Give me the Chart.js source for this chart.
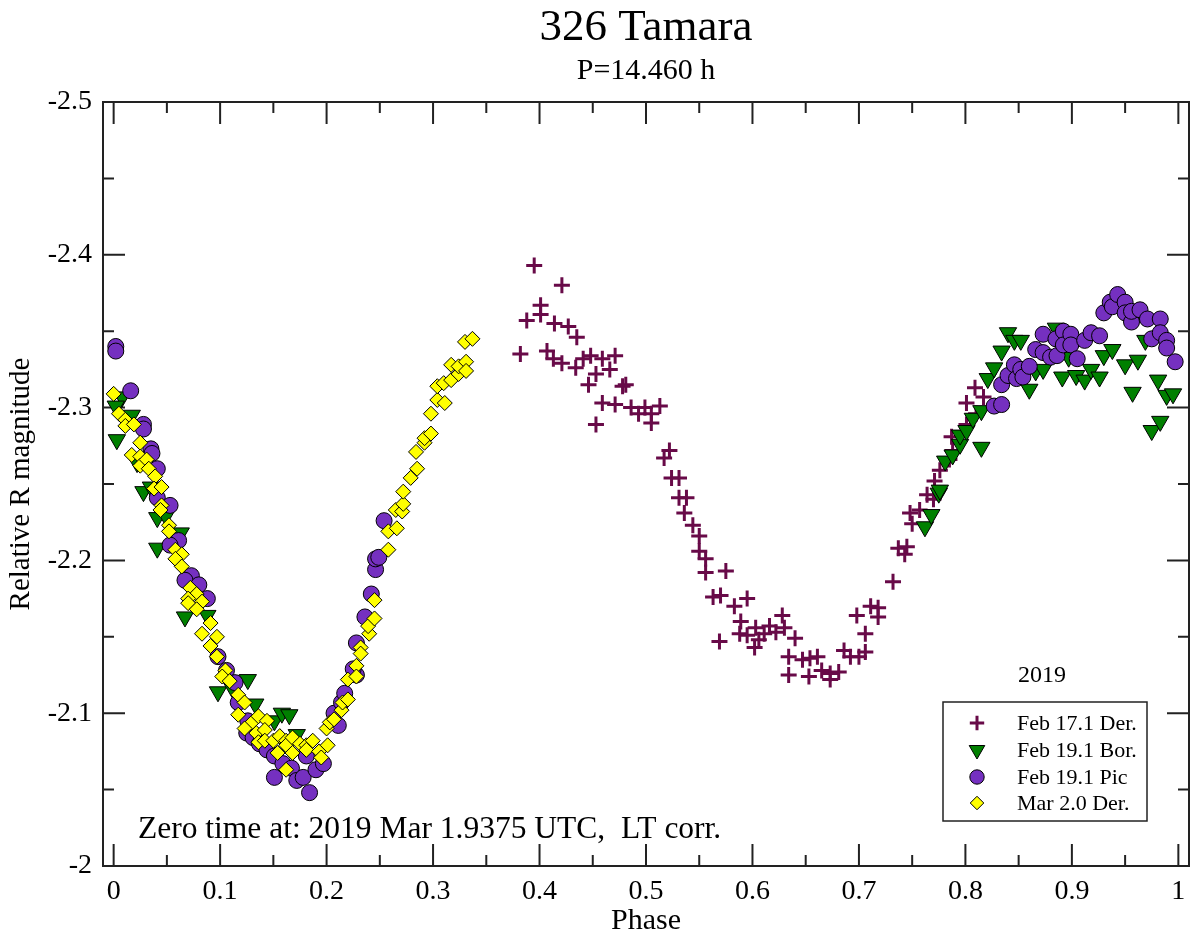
<!DOCTYPE html>
<html>
<head>
<meta charset="utf-8">
<title>326 Tamara</title>
<script src="https://cdn.jsdelivr.net/npm/chart.js@4.4.0/dist/chart.umd.min.js"></script>
<style>
  html, body { margin: 0; padding: 0; background: #fff; }
  #wrap { width: 1200px; height: 936px; position: relative; }
</style>
</head>
<body>
<div id="wrap"><canvas id="lc"></canvas></div>
<script>
// axis ticks
const xTicks = [0, 0.1, 0.2, 0.3, 0.4, 0.5, 0.6, 0.7, 0.8, 0.9, 1];
const xMinor = [0.05, 0.15, 0.25, 0.35, 0.45, 0.55, 0.65, 0.75, 0.85, 0.95];
const yTicks = [-2.5, -2.4, -2.3, -2.2, -2.1, -2];
const yMinor = [-2.45, -2.35, -2.25, -2.15, -2.05];

const seriesNames = ['Feb 17.1 Der.', 'Feb 19.1 Bor.', 'Feb 19.1 Pic', 'Mar 2.0 Der.'];

// Feb 17.1 Der. (plus)
const plusPhase = [0.395, 0.421, 0.401, 0.401, 0.388, 0.414, 0.427, 0.435, 0.382, 0.407,
  0.413, 0.421, 0.434, 0.441, 0.448, 0.459, 0.471, 0.453, 0.466, 0.446,
  0.478, 0.481, 0.459, 0.471, 0.486, 0.493, 0.499, 0.505, 0.513, 0.505,
  0.453, 0.522, 0.517, 0.524, 0.531, 0.531, 0.538, 0.536, 0.544, 0.550,
  0.550, 0.556, 0.556, 0.575, 0.563, 0.570, 0.569, 0.583, 0.595, 0.589,
  0.588, 0.595, 0.603, 0.602, 0.606, 0.611, 0.616, 0.622, 0.628, 0.630,
  0.640, 0.634, 0.634, 0.647, 0.654, 0.661, 0.653, 0.665, 0.673, 0.681,
  0.673, 0.686, 0.692, 0.700, 0.706, 0.706, 0.698, 0.711, 0.718, 0.718,
  0.732, 0.737, 0.745, 0.743, 0.750, 0.757, 0.764, 0.770, 0.771, 0.776,
  0.785, 0.788, 0.787, 0.801, 0.810, 0.801, 0.817, 0.809, 0.748];
const plusMag = [-2.393, -2.380, -2.367, -2.361, -2.357, -2.355, -2.353, -2.346, -2.335, -2.337,
  -2.332, -2.329, -2.326, -2.332, -2.334, -2.332, -2.334, -2.322, -2.325, -2.315,
  -2.314, -2.315, -2.303, -2.302, -2.300, -2.296, -2.300, -2.296, -2.301, -2.290,
  -2.289, -2.272, -2.267, -2.254, -2.254, -2.241, -2.241, -2.231, -2.223, -2.216,
  -2.206, -2.201, -2.192, -2.193, -2.176, -2.177, -2.147, -2.170, -2.175, -2.160,
  -2.152, -2.151, -2.156, -2.143, -2.148, -2.152, -2.157, -2.153, -2.164, -2.156,
  -2.149, -2.137, -2.125, -2.135, -2.136, -2.137, -2.124, -2.128, -2.126, -2.127,
  -2.122, -2.141, -2.137, -2.137, -2.140, -2.152, -2.164, -2.170, -2.169, -2.163,
  -2.186, -2.208, -2.209, -2.204, -2.224, -2.233, -2.243, -2.240, -2.252, -2.259,
  -2.266, -2.272, -2.281, -2.289, -2.296, -2.303, -2.307, -2.313, -2.231];

// Feb 19.1 Bor. (triangle down)
const triPhase = [0.008, 0.002, 0.017, 0.003, 0.022, 0.028, 0.035, 0.041, 0.049, 0.063,
  0.041, 0.067, 0.088, 0.098, 0.111, 0.126, 0.133, 0.151, 0.158, 0.165,
  0.172, 0.161,
  0.762, 0.768, 0.775, 0.776, 0.781, 0.788, 0.795, 0.795, 0.801, 0.807,
  0.815, 0.815, 0.821, 0.827, 0.834, 0.840, 0.846, 0.852, 0.860, 0.866,
  0.873, 0.885, 0.891, 0.897, 0.904, 0.912, 0.918, 0.926, 0.930, 0.938,
  0.950, 0.957, 0.962, 0.969, 0.975, 0.981, 0.983, 0.989, 0.995];
const triMag = [-2.307, -2.301, -2.295, -2.279, -2.264, -2.245, -2.248, -2.228, -2.229, -2.218,
  -2.208, -2.163, -2.164, -2.114, -2.117, -2.122, -2.106, -2.095, -2.100, -2.099,
  -2.086, -2.080,
  -2.222, -2.230, -2.244, -2.246, -2.265, -2.269, -2.276, -2.282, -2.285, -2.293,
  -2.298, -2.274, -2.319, -2.326, -2.337, -2.349, -2.344, -2.344, -2.312, -2.324,
  -2.325, -2.352, -2.320, -2.333, -2.321, -2.318, -2.325, -2.320, -2.334, -2.338,
  -2.328, -2.310, -2.331, -2.344, -2.285, -2.318, -2.291, -2.308, -2.309];

// Feb 19.1 Pic (circle)
const circPhase = [0.002, 0.002, 0.016, 0.028, 0.028, 0.035, 0.036, 0.041, 0.041, 0.053,
  0.061, 0.053, 0.073, 0.067, 0.080, 0.088, 0.098, 0.106, 0.114, 0.117,
  0.126, 0.125, 0.131, 0.137, 0.144, 0.151, 0.151, 0.159, 0.167, 0.172,
  0.178, 0.184, 0.190, 0.197, 0.181, 0.211, 0.207, 0.214, 0.217, 0.228,
  0.225, 0.228, 0.236, 0.242, 0.246, 0.246, 0.254, 0.249,
  0.827, 0.834, 0.834, 0.840, 0.846, 0.848, 0.852, 0.854, 0.860, 0.866,
  0.873, 0.880, 0.886, 0.873, 0.885, 0.892, 0.892, 0.899, 0.899, 0.905,
  0.912, 0.918, 0.926, 0.930, 0.936, 0.938, 0.943, 0.950, 0.950, 0.956,
  0.956, 0.964, 0.971, 0.983, 0.975, 0.983, 0.989, 0.989, 0.997];
const circMag = [-2.340, -2.337, -2.311, -2.289, -2.286, -2.273, -2.270, -2.260, -2.241, -2.236,
  -2.213, -2.210, -2.190, -2.187, -2.184, -2.175, -2.137, -2.128, -2.120, -2.107,
  -2.095, -2.087, -2.084, -2.080, -2.076, -2.072, -2.058, -2.067, -2.064, -2.056,
  -2.058, -2.048, -2.063, -2.067, -2.072, -2.092, -2.100, -2.107, -2.113, -2.125,
  -2.129, -2.146, -2.163, -2.178, -2.194, -2.201, -2.226, -2.202,
  -2.301, -2.302, -2.315, -2.321, -2.328, -2.319, -2.325, -2.320, -2.327, -2.338,
  -2.336, -2.333, -2.334, -2.348, -2.345, -2.350, -2.341, -2.348, -2.341, -2.332,
  -2.344, -2.349, -2.347, -2.362, -2.369, -2.366, -2.374, -2.369, -2.362, -2.356,
  -2.363, -2.364, -2.358, -2.358, -2.345, -2.349, -2.344, -2.339, -2.330];

// Mar 2.0 Der. (diamond)
const diaPhase = [0.000, 0.005, 0.011, 0.011, 0.019, 0.025, 0.017, 0.025, 0.025, 0.031,
  0.033, 0.039, 0.038, 0.045, 0.045, 0.044, 0.052, 0.052, 0.058, 0.064,
  0.058, 0.064, 0.072, 0.078, 0.070, 0.070, 0.083, 0.078, 0.091, 0.083,
  0.097, 0.091, 0.097, 0.105, 0.102, 0.109, 0.117, 0.123, 0.117, 0.130,
  0.136, 0.123, 0.144, 0.134, 0.142, 0.136, 0.142, 0.150, 0.156, 0.162,
  0.162, 0.154, 0.168, 0.175, 0.168, 0.181, 0.181, 0.187, 0.193, 0.195,
  0.201, 0.162, 0.200, 0.203, 0.207, 0.214, 0.215, 0.220, 0.220, 0.228,
  0.228, 0.232, 0.232, 0.240, 0.239, 0.245, 0.245, 0.258, 0.266, 0.265,
  0.271, 0.272, 0.272, 0.279, 0.285, 0.284, 0.292, 0.292, 0.298, 0.298,
  0.304, 0.311, 0.304, 0.310, 0.317, 0.317, 0.324, 0.324, 0.331, 0.331,
  0.330, 0.337, 0.258];
const diaMag = [-2.309, -2.296, -2.292, -2.288, -2.289, -2.277, -2.269, -2.268, -2.262, -2.266,
  -2.260, -2.255, -2.247, -2.248, -2.236, -2.233, -2.223, -2.219, -2.207, -2.204,
  -2.201, -2.196, -2.182, -2.178, -2.175, -2.172, -2.173, -2.168, -2.159, -2.152,
  -2.150, -2.144, -2.137, -2.128, -2.124, -2.121, -2.112, -2.107, -2.099, -2.094,
  -2.098, -2.090, -2.095, -2.087, -2.089, -2.081, -2.082, -2.082, -2.085, -2.082,
  -2.079, -2.074, -2.084, -2.080, -2.074, -2.079, -2.076, -2.082, -2.075, -2.071,
  -2.079, -2.063, -2.090, -2.094, -2.096, -2.102, -2.107, -2.109, -2.122, -2.131,
  -2.124, -2.143, -2.139, -2.152, -2.157, -2.162, -2.174, -2.219, -2.221, -2.233,
  -2.232, -2.237, -2.245, -2.254, -2.260, -2.271, -2.277, -2.280, -2.283, -2.296,
  -2.305, -2.303, -2.314, -2.316, -2.318, -2.328, -2.322, -2.327, -2.330, -2.324,
  -2.343, -2.345, -2.207];

const toPoints = (xs, ys) => xs.map((v, i) => ({x: v, y: ys[i]}));

const serif = '"Liberation Serif", "Times New Roman", "DejaVu Serif", serif';
Chart.defaults.font.family = serif;
Chart.defaults.color = '#000';

const styles = [
  {pointStyle: 'cross', radius: 8, rotation: 0, borderWidth: 3, color: '#680a48', border: '#680a48'},
  {pointStyle: 'triangle', radius: 10, rotation: 180, borderWidth: 1, color: '#008000', border: '#000'},
  {pointStyle: 'circle', radius: 8, rotation: 0, borderWidth: 1, color: '#7530c0', border: '#000'},
  {pointStyle: 'rectRot', radius: 7.5, rotation: 0, borderWidth: 1, color: '#ffff00', border: '#000'}
];

function dataset(i, points) {
  const s = styles[i];
  return {
    label: seriesNames[i],
    data: points,
    showLine: false,
    pointStyle: s.pointStyle,
    pointRadius: s.radius,
    pointRotation: s.rotation,
    pointBorderWidth: s.borderWidth,
    pointBackgroundColor: s.color,
    pointBorderColor: s.border,
    pointHoverRadius: s.radius,
    order: 4 - i
  };
}

// frame with inward major/minor ticks on all four sides
const framePlugin = {
  id: 'frame',
  beforeDatasetsDraw(chart) {
    const {ctx, chartArea: a, scales: {x, y}} = chart;
    ctx.save();
    ctx.strokeStyle = '#222';
    ctx.lineWidth = 2;
    ctx.strokeRect(a.left, a.top, a.right - a.left, a.bottom - a.top);
    ctx.beginPath();
    const vTick = (v, len) => {
      const px = x.getPixelForValue(v);
      ctx.moveTo(px, a.bottom); ctx.lineTo(px, a.bottom - len);
      ctx.moveTo(px, a.top); ctx.lineTo(px, a.top + len);
    };
    const hTick = (v, len) => {
      const py = y.getPixelForValue(v);
      ctx.moveTo(a.left, py); ctx.lineTo(a.left + len, py);
      ctx.moveTo(a.right, py); ctx.lineTo(a.right - len, py);
    };
    xTicks.forEach(v => vTick(v, 22));
    xMinor.forEach(v => vTick(v, 11));
    yTicks.forEach(v => hTick(v, 22));
    yMinor.forEach(v => hTick(v, 11));
    ctx.stroke();
    ctx.restore();
  }
};

// titles, note and legend box
const textPlugin = {
  id: 'texts',
  afterDraw(chart) {
    const {ctx, chartArea: a} = chart;
    const mid = (a.left + a.right) / 2;
    ctx.save();
    ctx.fillStyle = '#000';
    ctx.textAlign = 'center';
    ctx.textBaseline = 'middle';
    ctx.font = '45px ' + serif;
    ctx.fillText('326 Tamara', mid, 28);
    ctx.font = '30px ' + serif;
    ctx.fillText('P=14.460 h', mid, 71);

    ctx.textAlign = 'left';
    ctx.textBaseline = 'alphabetic';
    ctx.font = '31.5px ' + serif;
    ctx.fillText('Zero time at: 2019 Mar 1.9375 UTC,  LT corr.', 138, 838);

    // legend
    const bx = 943, by = 702, bw = 204, bh = 119;
    ctx.font = '24px ' + serif;
    ctx.textAlign = 'center';
    ctx.textBaseline = 'middle';
    ctx.fillText('2019', 1042, 676);
    ctx.fillStyle = '#fff';
    ctx.fillRect(bx, by, bw, bh);
    ctx.strokeStyle = '#222';
    ctx.lineWidth = 1.5;
    ctx.strokeRect(bx, by, bw, bh);
    ctx.textAlign = 'left';
    ctx.font = '22px ' + serif;
    const rows = [723, 750, 777, 803];
    seriesNames.forEach((name, i) => {
      const s = styles[i];
      ctx.save();
      ctx.fillStyle = s.color;
      ctx.strokeStyle = s.border;
      ctx.lineWidth = s.borderWidth;
      Chart.helpers.drawPoint(ctx, {
        pointStyle: s.pointStyle, radius: s.radius * 0.9,
        rotation: s.rotation, borderWidth: s.borderWidth
      }, 977, rows[i]);
      ctx.restore();
      ctx.fillStyle = '#000';
      ctx.fillText(name, 1017, rows[i] + 1);
    });
    ctx.restore();
  }
};

new Chart(document.getElementById('lc'), {
  type: 'scatter',
  data: {
    datasets: [
      dataset(0, toPoints(plusPhase, plusMag)),
      dataset(1, toPoints(triPhase, triMag)),
      dataset(2, toPoints(circPhase, circMag)),
      dataset(3, toPoints(diaPhase, diaMag))
    ]
  },
  options: {
    responsive: true,
    maintainAspectRatio: false,
    animation: false,
    layout: {padding: {top: 102, right: 7, left: 0, bottom: 0}},
    plugins: {
      legend: {display: false},
      tooltip: {enabled: false}
    },
    scales: {
      x: {
        type: 'linear',
        min: -0.01,
        max: 1.01,
        grid: {display: false},
        border: {display: false},
        afterBuildTicks: s => { s.ticks = xTicks.map(v => ({value: v})); },
        afterFit: s => { s.height = 70; },
        ticks: {
          padding: 1,
          font: {size: 28},
          color: '#000',
          maxRotation: 0,
          autoSkip: false,
          callback: v => String(v)
        },
        title: {
          display: true,
          text: 'Phase',
          font: {size: 30, lineHeight: 1},
          color: '#000',
          padding: {top: 0, bottom: 0}
        }
      },
      y: {
        type: 'linear',
        min: -2.5,
        max: -2,
        reverse: true,
        grid: {display: false},
        border: {display: false},
        afterBuildTicks: s => { s.ticks = yTicks.map(v => ({value: v})); },
        afterFit: s => { s.width = 103; },
        ticks: {
          padding: 3,
          font: {size: 28},
          color: '#000',
          autoSkip: false,
          callback: v => String(v)
        },
        title: {
          display: true,
          text: 'Relative R magnitude',
          font: {size: 29, lineHeight: 1},
          color: '#000',
          padding: {top: 7, bottom: 0}
        }
      }
    }
  },
  plugins: [framePlugin, textPlugin]
});
</script>
</body>
</html>
